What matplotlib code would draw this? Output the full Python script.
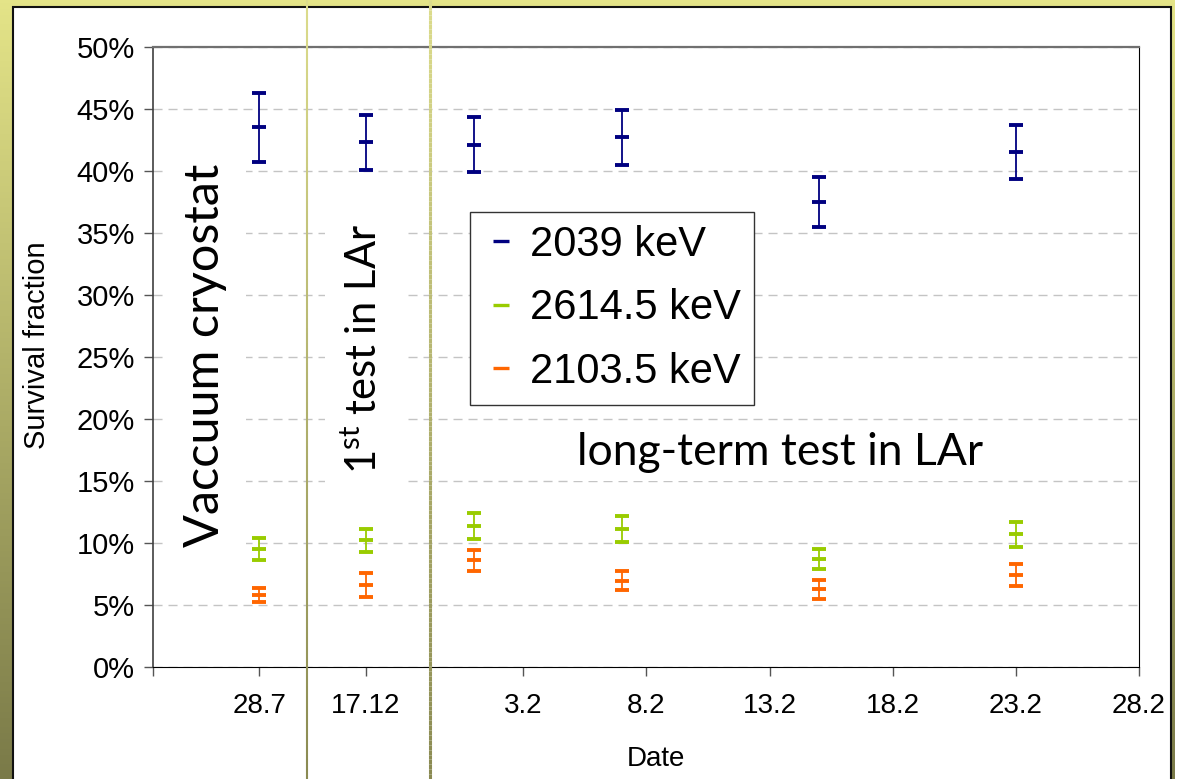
"""
Survival fraction of the PSD cut for three gamma lines, tracked over
the vacuum-cryostat run, the first LAr test and the long-term LAr test.
"""

import numpy as np
import matplotlib.pyplot as plt
from matplotlib.lines import Line2D
from matplotlib.patches import Rectangle
from matplotlib.collections import LineCollection
from matplotlib.colors import LinearSegmentedColormap
from matplotlib.ticker import PercentFormatter

plt.rcParams['font.family'] = ['Liberation Sans', 'DejaVu Sans']
plt.rcParams['mathtext.fontset'] = 'custom'
plt.rcParams['mathtext.rm'] = 'Lato'

# ==============================
# DATA
# ==============================
# x positions in days relative to 3.2; the two early runs sit on their own ticks
point_x = [-10.73, -6.40, -2.0, 4.0, 12.0, 20.0]

survival_2039 = [43.5, 42.3, 42.1, 42.7, 37.5, 41.5]
error_2039 = [2.8, 2.2, 2.2, 2.2, 2.0, 2.15]
survival_2614 = [9.5, 10.2, 11.4, 11.15, 8.7, 10.7]
error_2614 = [0.9, 0.9, 1.05, 1.05, 0.8, 1.0]
survival_2103 = [5.8, 6.6, 8.6, 6.95, 6.25, 7.4]
error_2103 = [0.6, 0.95, 0.87, 0.77, 0.77, 0.9]

series_labels = ['2039 keV', '2614.5 keV', '2103.5 keV']
series_colors = ['#000080', '#99cc00', '#ff6600']

tick_positions = [-15.04, -10.73, -6.40, 0, 5, 10, 15, 20, 25]
tick_labels = ['', '28.7', '17.12', '3.2', '8.2', '13.2', '18.2', '23.2', '28.2']
period_breaks = [-8.78, -3.78]

W, H = 1186, 779

# ==============================
# FIGURE + SLIDE BACKGROUND
# ==============================
fig = plt.figure(figsize=(W / 100, H / 100), dpi=100)
fig.patch.set_facecolor('white')

bg = fig.add_axes([0, 0, 1175 / W, 1], zorder=0)
slide_cmap = LinearSegmentedColormap.from_list('slide', ['#e4e488', '#7a7a48'])
bg.imshow(np.linspace(0, 1, 256).reshape(-1, 1), aspect='auto', cmap=slide_cmap,
          extent=[0, 1, 0, 1])
bg.axis('off')

fig.add_artist(Rectangle((13 / W, -0.05), (1171 - 13) / W, 1.05 - 7 / H,
                         transform=fig.transFigure, facecolor='white',
                         edgecolor='#111111', linewidth=1.5, zorder=1))

# ==============================
# MAIN PLOT
# ==============================
ax = fig.add_axes([153 / W, 1 - 667 / H, (1139 - 153) / W, (667 - 46.7) / H], zorder=2)
ax.set_facecolor('white')

for values, errors, color in zip([survival_2039, survival_2614, survival_2103],
                                 [error_2039, error_2614, error_2103], series_colors):
    ax.errorbar(point_x, values, yerr=errors, fmt='_', color=color, ecolor=color,
                elinewidth=1.3, capsize=5, capthick=1.3, markersize=9.5, mew=2.8,
                zorder=4)

ax.set_xlim(-15.04, 25)
ax.set_ylim(0, 50)
ax.set_yticks(np.arange(0, 51, 5))
ax.yaxis.set_major_formatter(PercentFormatter(xmax=100, decimals=0))
ax.set_xticks(tick_positions)
ax.set_xticklabels(tick_labels)

ax.yaxis.grid(True, color='#c4c4c4', linestyle=(0, (6.5, 4.3)), linewidth=1)
ax.set_axisbelow(True)

ax.spines['top'].set_color('#707070')
ax.spines['top'].set_linewidth(1.6)
ax.spines['left'].set_color('#404040')
ax.spines['left'].set_linewidth(1.2)
ax.spines['bottom'].set_color('black')
ax.spines['right'].set_color('black')

ax.tick_params(axis='y', length=6.5, width=1, color='#555555', labelsize=21, pad=6.5)
ax.tick_params(axis='x', length=6.5, width=1, color='#555555', labelsize=20, pad=12)

ax.set_xlabel('Date', fontsize=20)
ax.xaxis.set_label_coords((656 - 153) / 986, (667 - 759) / 620.3)
ax.xaxis.label.set_verticalalignment('center')
ax.set_ylabel('Survival fraction', fontsize=21)
ax.yaxis.set_label_coords((37 - 153) / 986, (667 - 345) / 620.3)
ax.yaxis.label.set_verticalalignment('center')

# period annotations
note_font = ['Lato', 'DejaVu Sans']
ax.text(0.0527, 0.503, 'Vaccuum cryostat', transform=ax.transAxes, rotation=90,
        ha='center', va='center', fontsize=35, family=note_font, zorder=3,
        bbox=dict(facecolor='white', edgecolor='none', boxstyle='square,pad=0.4'))
ax.text(0.214, 0.5126, r'1$^{\mathrm{st}}$ test in LAr', transform=ax.transAxes,
        rotation=90, ha='center', va='center', fontsize=30, family=note_font, zorder=3,
        bbox=dict(facecolor='white', edgecolor='none', boxstyle='square,pad=0.45'))
ax.text(0.636, 0.3466, 'long-term test in LAr', transform=ax.transAxes,
        ha='center', va='center', fontsize=32, family=note_font, zorder=3,
        bbox=dict(facecolor='white', edgecolor='none', boxstyle='square,pad=0.2'))

handles = [Line2D([], [], color=c, marker='_', linestyle='none', markersize=12, mew=2.4)
           for c in series_colors]
leg = ax.legend(handles, series_labels, loc='upper left', bbox_to_anchor=(0.3215, 0.7335),
                fontsize=30, frameon=True, fancybox=False, edgecolor='#333333',
                framealpha=1, borderpad=0.3, labelspacing=0.57, handlelength=0.9,
                handletextpad=0.25, borderaxespad=0)
leg.get_frame().set_linewidth(1.0)
leg.set_zorder(5)

# ==============================
# PERIOD SEPARATORS (drawn across the whole slide)
# ==============================
ov = fig.add_axes([0, 0, 1, 1], zorder=3)
ov.set_xlim(0, W)
ov.set_ylim(0, H)
ov.axis('off')
sep_cmap = LinearSegmentedColormap.from_list('sep', ['#8a8a52', '#dcdc8c'])
ys = np.linspace(0, H, 160)
for xb, lw in zip(period_breaks, [1.5, 2.2]):
    px = ax.transData.transform((xb, 0))[0]
    segs = [[(px, ys[i]), (px, ys[i + 1])] for i in range(len(ys) - 1)]
    ov.add_collection(LineCollection(segs, colors=sep_cmap(ys[:-1] / H), linewidths=lw))

fig.savefig('out.png', dpi=100)
